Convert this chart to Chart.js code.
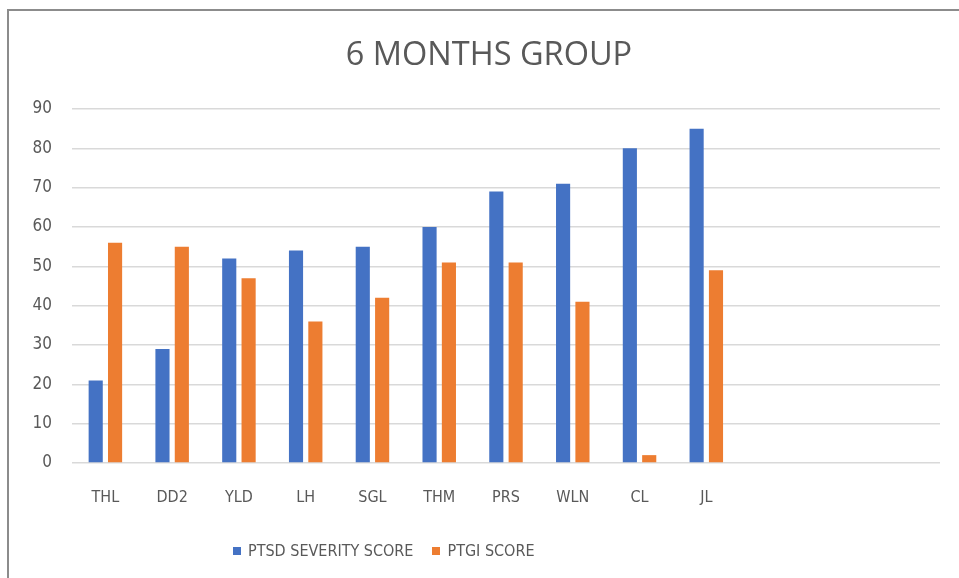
<!DOCTYPE html>
<html lang="en">
<head>
    <meta charset="UTF-8">
    <title>6 MONTHS GROUP</title>
    <script src="https://cdn.jsdelivr.net/npm/chart.js@4.4.1/dist/chart.umd.min.js"></script>
    <style>
        body {
            margin: 0;
            background: #ffffff;
            font-family: "DejaVu Sans Condensed", Lato, sans-serif;
        }
        .wrap {
            position: relative;
            width: 959px;
            height: 578px;
            overflow: hidden;
        }
        .frame {
            position: absolute;
            left: 7px;
            top: 9px;
            width: 960px;
            height: 580px;
            border-top: 2px solid #8c8c8c;
            border-left: 2px solid #8c8c8c;
        }
        canvas {
            position: absolute;
            left: 0;
            top: 0;
        }
        .legend {
            position: absolute;
            top: 540px;
            left: 233px;
            display: flex;
            align-items: center;
            font-size: 16px;
            line-height: 22px;
            color: #595959;
        }
        .legend span.box {
            display: inline-block;
            width: 8px;
            height: 8px;
            margin-right: 7px;
        }
        .legend .item {
            display: flex;
            align-items: center;
            margin-right: 19px;
        }
    </style>
</head>
<body>
    <div class="wrap">
        <div class="frame"></div>
        <canvas id="chart" width="959" height="578"></canvas>
        <div class="legend">
            <div class="item"><span class="box" style="background:#4472C4"></span>PTSD SEVERITY SCORE</div>
            <div class="item"><span class="box" style="background:#ED7D31"></span>PTGI SCORE</div>
        </div>
    </div>

    <script>
        // Données
        const categories = ['THL', 'DD2', 'YLD', 'LH', 'SGL', 'THM', 'PRS', 'WLN', 'CL', 'JL', '', '', ''];
        const ptsdScores = [21, 29, 52, 54, 55, 60, 69, 71, 80, 85];
        const ptgiScores = [56, 55, 47, 36, 42, 51, 51, 41, 2, 49];
        const yTicks = [0, 10, 20, 30, 40, 50, 60, 70, 80, 90];

        const textColor = '#595959';
        const gridColor = '#d9d9d9';
        const labelFont = '"DejaVu Sans Condensed", Lato, sans-serif';

        let ctx = document.getElementById('chart').getContext('2d');
        let chart = new Chart(ctx, {
            type: 'bar',
            data: {
                labels: categories,
                datasets: [
                    {
                        label: 'PTSD SEVERITY SCORE',
                        data: ptsdScores,
                        backgroundColor: '#4472C4',
                        categoryPercentage: 0.58,
                        barPercentage: 0.73
                    },
                    {
                        label: 'PTGI SCORE',
                        data: ptgiScores,
                        backgroundColor: '#ED7D31',
                        categoryPercentage: 0.58,
                        barPercentage: 0.73
                    }
                ]
            },
            options: {
                responsive: false,
                animation: false,
                layout: {
                    // marge gauche pour recentrer le titre comme dans l'original
                    padding: { left: 19, right: 0, top: 0, bottom: 0 }
                },
                scales: {
                    x: {
                        grid: { display: false },
                        border: { display: false },
                        ticks: {
                            color: textColor,
                            font: { family: labelFont, size: 16 },
                            padding: 17,
                            maxRotation: 0,
                            autoSkip: false
                        },
                        afterFit: function (scale) { scale.height = 115; }
                    },
                    y: {
                        min: yTicks[0],
                        max: yTicks[yTicks.length - 1],
                        afterBuildTicks: function (scale) {
                            scale.ticks = yTicks.map(v => ({ value: v }));
                        },
                        grid: {
                            color: gridColor,
                            lineWidth: 1.5,
                            drawTicks: false
                        },
                        border: { display: false },
                        ticks: {
                            color: textColor,
                            font: { family: labelFont, size: 17 },
                            padding: 20
                        },
                        afterFit: function (scale) { scale.width = 53; }
                    },
                    // axe vide à droite, juste pour laisser la marge de droite
                    yRight: {
                        position: 'right',
                        grid: { display: false },
                        border: { display: false },
                        ticks: { display: false },
                        afterFit: function (scale) { scale.width = 19; }
                    }
                },
                plugins: {
                    legend: { display: false },
                    tooltip: { enabled: false },
                    title: {
                        display: true,
                        text: '6 MONTHS GROUP',
                        color: textColor,
                        font: { family: '"Open Sans", sans-serif', size: 32.5, weight: 'normal' },
                        padding: { top: 36, bottom: 34 }
                    }
                }
            }
        });
    </script>
</body>
</html>
